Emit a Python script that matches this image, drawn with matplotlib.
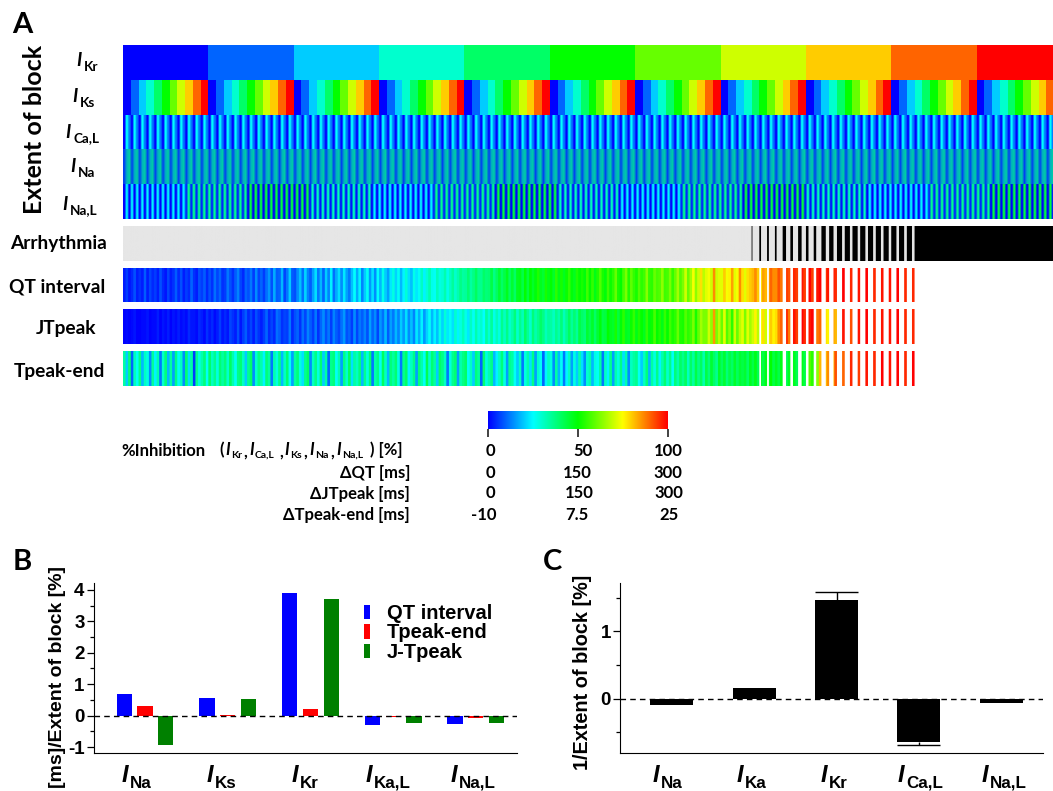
import numpy as np
import matplotlib
matplotlib.use("Agg")
import matplotlib.pyplot as plt
from matplotlib.colors import LinearSegmentedColormap, ListedColormap

# block design, levels in %
IKR_LEVELS = [0, 10, 20, 30, 40, 50, 60, 70, 80, 90, 100]
IKS_LEVELS = [0, 10, 20, 30, 40, 50, 60, 70, 80, 90, 100]
ICAL_LEVELS = [0, 25, 12]
INA_LEVELS = [0, 25, 50]
# how the three INa levels blur together in each ICa,L column
INA_MIX = [[0.75, 0.2, 0.05], [0.3, 0.45, 0.25], [0.2, 0.45, 0.35]]
# INa,L levels as they alias on screen, one pair per run of IKs steps
INAL_PAIRS = [[0, 24], [4, 36], [0, 44], [2, 32]]
INAL_RUN = 8

# per simulated pulse, three per IKs step, on the 0-100 colour scale
QT_VALUES = [
    3, 6, 2, 4, 8, 3, 5, 3, 9, 3, 7, 4, 6, 3, 8, 4, 2, 7, 3, 5, 9, 4, 8, 3, 6, 4, 10, 5, 3, 8,
    6, 9, 4, 8, 5, 11, 7, 10, 5, 6, 12, 8, 5, 9, 13, 7, 4, 10, 8, 12, 6, 14, 7, 10, 6, 11, 15, 8, 17, 9,
    10, 18, 7, 12, 20, 9, 8, 14, 19, 11, 21, 13, 9, 16, 22, 12, 18, 10, 20, 13, 24, 11, 17, 22, 14, 23, 16, 12, 19, 25,
    17, 24, 13, 20, 26, 15, 22, 14, 25, 18, 27, 20, 16, 23, 28, 21, 26, 18, 24, 29, 22, 19, 27, 23, 26, 31, 24, 29, 33, 27,
    26, 32, 28, 29, 33, 27, 31, 35, 30, 33, 37, 34, 35, 39, 34, 37, 41, 36, 36, 40, 38, 39, 43, 37, 41, 45, 40, 43, 47, 41,
    45, 40, 47, 48, 43, 50, 44, 50, 46, 49, 53, 47, 45, 52, 48, 50, 46, 54, 48, 52, 47, 51, 55, 49, 47, 53, 50, 52, 49, 56,
    50, 55, 48, 53, 58, 52, 49, 56, 51, 54, 60, 52, 50, 57, 62, 53, 59, 55, 52, 58, 54, 56, 63, 55, 54, 60, 57, 58, 64, 56,
    57, 62, 55, 60, 66, 58, 62, 70, 60, 66, 74, 64, 70, 78, 68, 72, 74, 70, 86, 70, 72, 72, 80, 74, 76, 84, 72, 74, 86, 78,
    72, 78, 80, 82, 86, 80, 78, 84, 82, 84, 90, 86, 86, 92, 88, 90, 94, 92, 92, 96, 94, 90, 98, 94, 96, 100, 94, 94, 98, 100,
    96, 94, 98, 96, 98, 96, 98, 96, 100, 98, 100, 96, 100, 98, 98, 98, 96, 100, 100, 98, 96, 98, 100, 98, 96, 100, 98, 98, 96, 100, 100, 98, 96, 98, 100, 96,
]
JT_VALUES = [
    0, 1, 0, 1, 2, 0, 0, 1, 1, 2, 0, 1, 1, 3, 0, 2, 1, 3, 0, 2, 1, 3, 1, 2, 1, 4, 2, 2, 1, 4,
    3, 1, 5, 2, 4, 1, 3, 6, 2, 4, 2, 7, 5, 3, 8, 2, 6, 9, 4, 7, 3, 8, 5, 3, 6, 10, 4, 7, 4, 11,
    9, 5, 7, 6, 12, 4, 8, 10, 5, 11, 7, 13, 9, 6, 12, 5, 10, 14, 8, 12, 6, 13, 9, 7, 11, 15, 8, 10, 6, 14,
    7, 12, 9, 13, 8, 16, 10, 14, 7, 15, 11, 18, 9, 16, 12, 18, 13, 20, 15, 22, 14, 19, 13, 23, 17, 24, 15, 21, 26, 18,
    24, 19, 27, 21, 29, 23, 26, 22, 30, 24, 28, 32, 27, 23, 31, 26, 33, 28, 30, 25, 34, 29, 35, 27, 32, 28, 36, 31, 37, 30,
    33, 38, 30, 36, 32, 40, 35, 30, 38, 33, 36, 40, 37, 32, 35, 34, 31, 36, 33, 38, 32, 36, 41, 35, 39, 35, 43, 40, 38, 45,
    42, 46, 40, 45, 49, 43, 44, 50, 47, 46, 52, 44, 49, 54, 47, 46, 51, 55, 48, 53, 50, 47, 55, 49, 51, 57, 50, 53, 48, 55,
    50, 56, 52, 54, 60, 53, 52, 58, 54, 56, 62, 52, 60, 66, 62, 62, 70, 64, 85, 62, 68, 60, 72, 58, 64, 54, 70, 60, 68, 72,
    62, 72, 66, 70, 76, 68, 74, 78, 70, 72, 80, 76, 78, 86, 90, 92, 96, 88, 90, 98, 94, 94, 100, 96, 92, 98, 100, 84, 88, 90,
    80, 78, 76, 75, 84, 82, 92, 88, 98, 98, 96, 92, 96, 100, 98, 98, 96, 100, 100, 98, 96, 98, 100, 98, 96, 100, 98, 98, 96, 100, 100, 98, 96, 98, 100, 96,
]
TP_VALUES = [
    34, 20, 38, 10, 32, 26, 37, 18, 31, 28, 14, 35, 24, 33, 12, 30, 38, 18, 34, 16, 37, 26, 31, 14, 39, 22, 34, 6, 36, 28,
    33, 38, 26, 40, 31, 36, 28, 39, 34, 38, 30, 41, 33, 26, 37, 39, 31, 20, 36, 40, 14, 30, 37, 33, 24, 38, 34, 12, 33, 28,
    37, 18, 31, 39, 26, 16, 34, 38, 28, 22, 36, 40, 14, 31, 37, 28, 39, 20, 34, 10, 36, 38, 26, 33, 16, 37, 30, 41, 22, 34,
    31, 38, 18, 36, 28, 39, 12, 33, 37, 26, 41, 31, 18, 38, 34, 39, 28, 12, 36, 40, 24, 31, 37, 16, 38, 33, 26, 42, 30, 39,
    34, 20, 40, 37, 31, 12, 28, 36, 39, 16, 33, 37, 40, 26, 31, 20, 38, 34, 10, 39, 28, 33, 37, 18, 24, 31, 38, 28, 16, 36,
    34, 26, 20, 31, 12, 28, 33, 22, 37, 16, 30, 26, 10, 24, 31, 28, 14, 34, 18, 26, 12, 24, 31, 16, 28, 20, 33, 22, 14, 30,
    33, 18, 28, 26, 34, 12, 31, 24, 36, 16, 33, 28, 37, 22, 33, 14, 31, 34, 36, 26, 20, 31, 38, 18, 34, 28, 37, 24, 33, 39,
    30, 37, 26, 38, 33, 40, 36, 41, 31, 40, 34, 43, 37, 41, 33, 43, 38, 45, 40, 36, 46, 41, 45, 38, 43, 40, 46, 41, 45, 43,
    45, 40, 47, 43, 48, 42, 47, 43, 48, 45, 50, 43, 47, 43, 48, 45, 42, 47, 43, 47, 42, 45, 48, 43, 62, 58, 54, 60, 64, 82,
    84, 80, 86, 88, 82, 92, 86, 78, 90, 92, 88, 96, 96, 98, 94, 100, 96, 98, 98, 100, 96, 100, 98, 100, 96, 100, 98, 100, 96, 100, 98, 100, 96, 100, 98, 100,
]

# arrhythmic share of the last IKs steps, in ninths of a step, first step is no. 81
ARR_FIRST_STEP = 81
ARR_BLACK = [1, 2, 2, 2, 4, 3, 4, 3, 3, 5, 5, 6, 6, 6, 6, 6, 6, 6, 6, 6, 6]
RESP_GAP = [0, 2, 2, 0, 4, 3, 4, 3, 3, 5, 5, 6, 6, 6, 6, 6, 6, 6, 6, 6, 6]

# panel B
B_CATS = ["Na", "Ks", "Kr", "Ka,L", "Na,L"]
B_QT = [0.68, 0.55, 3.9, -0.3, -0.28]
B_TP = [0.3, 0.03, 0.2, -0.05, -0.07]
B_JT = [-0.92, 0.52, 3.7, -0.25, -0.22]

# panel C
C_CATS = ["Na", "Ka", "Kr", "Ca,L", "Na,L"]
C_VALUES = [-0.1, 0.16, 1.47, -0.64, -0.06]
C_ERRORS = [0.0, 0.0, 0.11, 0.05, 0.0]

W, H = 1053, 791
CALIBRI = ["Lato", "DejaVu Sans"]
ARIAL = "Liberation Sans"

jet5 = LinearSegmentedColormap.from_list(
    "jet5", ["#0000ff", "#00ffff", "#00ff00", "#ffff00", "#ff0000"], N=256)
jet5.set_bad("white")

fig = plt.figure(figsize=(W / 100, H / 100), dpi=100, facecolor="white")


def px_axes(x0, y0, x1, y1):
    # pixel box, y from the top of the picture
    return fig.add_axes([x0 / W, 1 - y1 / H, (x1 - x0) / W, (y1 - y0) / H])


def px_text(x, y, s, **kw):
    return fig.text(x / W, 1 - y / H, s, **kw)


def current_label(x, y, sub, size, family, i_width=None, sub_ratio=0.72):
    # italic I with a smaller subscript
    px_text(x, y, "I", fontsize=size, family=family, style="italic", weight="bold",
            ha="left", va="center")
    step = i_width if i_width is not None else size * 0.55
    px_text(x + step, y + size * 0.42, sub, fontsize=size * sub_ratio, family=family,
            weight="bold", ha="left", va="center")


def strip(row, y0, y1, cmap=jet5, vmin=0, vmax=100, interp="hanning"):
    ax = px_axes(HEAT_X0, y0, HEAT_X1, y1)
    ax.imshow(np.atleast_2d(row), aspect="auto", cmap=cmap, vmin=vmin, vmax=vmax,
              interpolation=interp, interpolation_stage="rgba")
    ax.axis("off")
    return ax


HEAT_X0, HEAT_X1 = 122.7, 1061

# panel A, top rows
n_kr, n_ks, n_ca = len(IKR_LEVELS), len(IKS_LEVELS), len(ICAL_LEVELS)
n_steps = n_kr * n_ks
kr_row = np.repeat(IKR_LEVELS, n_ks)
ks_row = np.tile(IKS_LEVELS, n_kr)
ca_row = np.tile(ICAL_LEVELS, n_steps)

strip(kr_row, 45, 80, interp="nearest")
strip(ks_row, 80, 115, interp="nearest")
strip(ca_row, 115, 149.3)

# INa: levels are finer than a pixel, so mix their colours per column
na_colors = jet5(np.array(INA_LEVELS) / 100)
na_stripe = np.array(INA_MIX) @ na_colors
na_rgb = np.tile(na_stripe, (n_steps, 1))[None, :, :]
ax_na = px_axes(HEAT_X0, 149.3, HEAT_X1, 184)
ax_na.imshow(na_rgb, aspect="auto", interpolation="bilinear", interpolation_stage="rgba")
ax_na.axis("off")

nal_row = []
for i in range(n_steps * n_ca // 2 + 1):
    pair = INAL_PAIRS[(2 * i // n_ca // INAL_RUN) % len(INAL_PAIRS)]
    nal_row.extend(pair)
strip(nal_row, 184, 219)

# arrhythmia, ninth-of-a-step resolution
arr_row = np.zeros(n_steps * 9)
resp_gap = np.zeros(n_steps * 9, dtype=bool)
for i, (black, gap) in enumerate(zip(ARR_BLACK, RESP_GAP)):
    start = (ARR_FIRST_STEP + i) * 9
    arr_row[start:start + black] = 1
    resp_gap[start:start + gap] = True
last_step = ARR_FIRST_STEP + len(ARR_BLACK)
arr_row[last_step * 9:] = 1
resp_gap[last_step * 9:] = True
strip(arr_row, 226, 261, cmap=ListedColormap(["#e6e6e6", "black"]), vmin=0, vmax=1)


def response_row(values):
    vals = np.full(n_steps * 9, np.nan)
    fine = np.repeat(np.array(values, dtype=float), 3)
    vals[:len(fine)] = fine
    vals[resp_gap] = np.nan
    return vals


strip(response_row(QT_VALUES), 267.7, 302.3)
strip(response_row(JT_VALUES), 309.3, 344)
strip(response_row(TP_VALUES), 351, 386)

# row labels
px_text(35, 129, "Extent of block", fontsize=18, family=CALIBRI, weight="bold",
        rotation=90, ha="center", va="center")
for x, y, sub in [(76, 61, "Kr"), (72, 97, "Ks"), (65, 132, "Ca,L"), (70, 167, "Na"), (62, 204, "Na,L")]:
    current_label(x, y, sub, 13.5, CALIBRI, i_width=8)
for x, y, s in [(58.5, 244, "Arrhythmia"), (57, 287, "QT interval"), (66, 328, "JTpeak"), (59, 371, "Tpeak-end")]:
    px_text(x, y, s, fontsize=13.8, family=CALIBRI, weight="bold", ha="center", va="center")

px_text(12, 25, "A", fontsize=21, family=CALIBRI, weight="bold", ha="left", va="center")
px_text(13, 562, "B", fontsize=21, family=CALIBRI, weight="bold", ha="left", va="center")
px_text(543, 562, "C", fontsize=21, family=CALIBRI, weight="bold", ha="left", va="center")

# colour bar
cax = px_axes(488, 411, 668, 429)
cax.imshow(np.linspace(0, 100, 256)[None, :], aspect="auto", cmap=jet5, vmin=0, vmax=100,
           extent=[0, 100, 0, 1])
cax.set_yticks([])
cax.set_xticks([0, 50, 100])
cax.set_xticklabels([])
cax.tick_params(axis="x", length=6, width=1.2, color="#222222")
for s in cax.spines.values():
    s.set_visible(False)

table_rows = [
    (451, None, ["0", "50", "100"], [490, 583, 668]),
    (472.5, "ΔQT [ms]", ["0", "150", "300"], [490, 577.5, 668]),
    (493.5, "ΔJTpeak [ms]", ["0", "150", "300"], [490, 579, 668.5]),
    (515, "ΔTpeak-end [ms]", ["-10", "7.5", "25"], [484, 577, 669.5]),
]
for y, label, ticks, xs in table_rows:
    if label:
        px_text(410, y, label, fontsize=12, family=CALIBRI, weight="bold", ha="right", va="center")
    for x, t in zip(xs, ticks):
        px_text(x, y, t, fontsize=12, family=CALIBRI, weight="bold", ha="center", va="center")

px_text(121, 451, "%Inhibition", fontsize=12, family=CALIBRI, weight="bold", ha="left", va="center")
px_text(219, 450, "(", fontsize=12, family=CALIBRI, weight="bold", ha="left", va="center")
for x, sub, comma_x in [(225, "Kr", 245), (249, "Ca,L", 281), (284, "Ks", 305), (309, "Na", 332), (336, "Na,L", None)]:
    current_label(x, 450, sub, 12, CALIBRI, i_width=6, sub_ratio=0.62)
    if comma_x:
        px_text(comma_x, 452, ",", fontsize=12, family=CALIBRI, weight="bold", ha="center", va="center")
px_text(370, 450, ") [%]", fontsize=12, family=CALIBRI, weight="bold", ha="left", va="center")

# panel B
axb = px_axes(93.6, 583, 517, 752.7)
x = np.arange(len(B_CATS))
w = 0.184
axb.bar(x - 0.2515, B_QT, w, color="#0000ff", label="QT interval")
axb.bar(x, B_TP, w, color="#ff0000", label="Tpeak-end")
axb.bar(x + 0.2515, B_JT, w, color="#008000", label="J-Tpeak")
axb.set_xlim(-0.6215, 4.498)
axb.set_ylim(-1.18, 4.22)
axb.axhline(0, color="black", lw=1, ls=(0, (4, 3)))
axb.set_yticks([-1, 0, 1, 2, 3, 4])
axb.set_yticks([-0.5, 0.5, 1.5, 2.5, 3.5], minor=True)
axb.set_yticklabels(["-1", "0", "1", "2", "3", "4"], fontsize=13.5, family=ARIAL, weight="bold")
axb.set_xticks([])
axb.legend(loc="upper left", bbox_to_anchor=(0.6386, 0.876), frameon=False, borderpad=0, borderaxespad=0,
           handlelength=0.3, handleheight=0.72, handletextpad=0.85, labelspacing=0.02,
           prop={"family": ARIAL, "weight": "bold", "size": 14.5})
px_text(57, 677, "[ms]/Extent of block [%]", fontsize=14, family=ARIAL, weight="bold",
        rotation=90, ha="center", va="center")

# panel C
axc = px_axes(620, 583, 1043, 753)
xc = np.arange(len(C_CATS))
axc.bar(xc, C_VALUES, 0.52, color="black")
for xi, v, e in zip(xc, C_VALUES, C_ERRORS):
    if e > 0:
        end = v + e if v > 0 else v - e
        axc.vlines(xi, v, end, color="black", lw=1)
        axc.hlines(end, xi - 0.26, xi + 0.26, color="black", lw=1)
axc.set_xlim((620 - 671.7) / 82.4, (1043 - 671.7) / 82.4)
axc.set_ylim(-0.807, 1.718)
axc.axhline(0, color="black", lw=1, ls=(0, (4, 3)))
axc.set_yticks([0, 1])
axc.set_yticks([-0.5, 0.5, 1.5], minor=True)
axc.set_yticklabels(["0", "1"], fontsize=13.5, family=ARIAL, weight="bold")
axc.set_xticks([])
px_text(583, 672, "1/Extent of block [%]", fontsize=14.3, family=ARIAL, weight="bold",
        rotation=90, ha="center", va="center")

for ax in (axb, axc):
    ax.spines["top"].set_visible(False)
    ax.spines["right"].set_visible(False)
    ax.patch.set_alpha(0)
    ax.tick_params(axis="y", which="major", length=5, width=0.9, pad=1.5)
    ax.tick_params(axis="y", which="minor", length=3, width=0.9)

for px, sub in zip([122, 207, 292, 366, 451], B_CATS):
    current_label(px, 776, sub, 17, ARIAL, i_width=8)
for px, sub in zip([653, 737, 821, 898, 982], C_CATS):
    current_label(px, 776, sub, 17, ARIAL, i_width=8)

fig.savefig("out.png", dpi=100)
